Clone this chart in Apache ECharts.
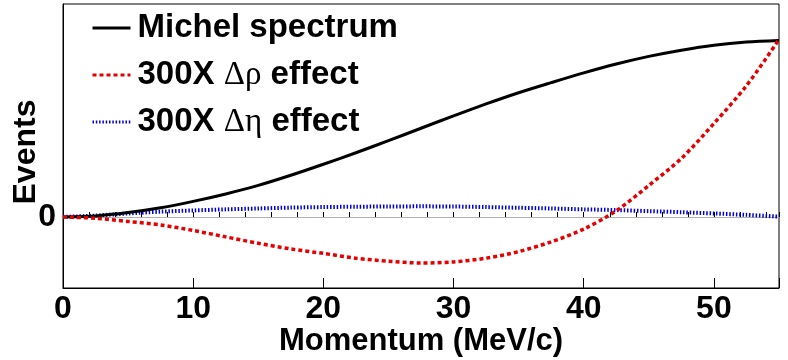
<!DOCTYPE html>
<html>
<head>
<meta charset="utf-8">
<script src="https://cdn.jsdelivr.net/npm/echarts@6/dist/echarts.min.js"></script>
<style>html,body{margin:0;padding:0;background:#fff;}#c{width:788px;height:360px;}</style>
</head>
<body>
<div id="c"></div>
<script>
var momentum = [0, 2.5, 5, 7.5, 10, 12.5, 15, 17.5, 20, 22.5, 25, 27.5, 30, 32.5, 35, 37.5, 40, 42.5, 45, 47.5, 50, 52.5, 55];
var michel = [0, 0.006, 0.025, 0.052, 0.088, 0.13, 0.178, 0.235, 0.297, 0.362, 0.43, 0.50, 0.57, 0.637, 0.70, 0.757, 0.812, 0.862, 0.905, 0.94, 0.968, 0.986, 0.995];
var deltaRho = [0, -0.007, -0.025, -0.045, -0.076, -0.112, -0.148, -0.18, -0.205, -0.232, -0.249, -0.259, -0.253, -0.232, -0.195, -0.14, -0.068, 0.035, 0.178, 0.33, 0.527, 0.74, 1.0];
var deltaEta = [0, 0.008, 0.02, 0.03, 0.037, 0.043, 0.048, 0.053, 0.056, 0.058, 0.059, 0.06, 0.059, 0.056, 0.052, 0.048, 0.043, 0.039, 0.033, 0.027, 0.02, 0.012, 0.002];
var seriesNames = ['Michel spectrum', '300X \u0394\u03c1 effect', '300X \u0394\u03b7 effect'];
var xTitle = 'Momentum (MeV/c)';
var yTitle = 'Events';

function pairs(ys) { return momentum.map(function (x, i) { return [x, ys[i]]; }); }

var FONT = 'Liberation Sans';
var chart = echarts.init(document.getElementById('c'), null, {renderer: 'canvas'});
chart.setOption({
  animation: false,
  backgroundColor: '#fff',
  grid: {left: 63, right: 9, top: 4, bottom: 72, outerBoundsMode: 'none', containLabel: false,
    show: true, borderColor: '#000', borderWidth: 1, backgroundColor: 'transparent'},
  legend: {
    orient: 'vertical', left: 86, top: 5,
    itemWidth: 38, itemHeight: 14, itemGap: 11,
    data: seriesNames,
    itemStyle: {opacity: 0},
    lineStyle: {width: 3},
    formatter: function (n) { return n.replace(/(\u0394.)/, '{g|$1}'); },
    textStyle: {
      fontFamily: FONT, fontWeight: 'bold', fontSize: 33, color: '#000', lineHeight: 36, padding: [0, 0, 0, 2],
      rich: {g: {fontFamily: 'Liberation Serif', fontWeight: 'normal', fontSize: 33, color: '#000', lineHeight: 36}}
    }
  },
  xAxis: [{
    type: 'value', min: 0, max: 55, interval: 10, position: 'bottom',
    name: xTitle, nameLocation: 'middle', nameGap: 38, nameMoveOverlap: false,
    nameTextStyle: {fontFamily: FONT, fontWeight: 'bold', fontSize: 31, color: '#000'},
    axisLine: {show: true, onZero: false, lineStyle: {color: '#000', width: 1}},
    axisTick: {show: true, inside: true, length: 10, lineStyle: {color: '#000', width: 1}},
    axisLabel: {show: true, margin: 5, fontFamily: FONT, fontWeight: 'bold', fontSize: 32, color: '#000',
      formatter: function (v) { return v % 10 === 0 ? String(v) : ''; }},
    splitLine: {show: false}
  }, {
    type: 'value', min: 0, max: 55, interval: 2, position: 'bottom',
    axisLine: {show: false},
    axisTick: {show: true, inside: true, length: 5, lineStyle: {color: '#000', width: 1}},
    axisLabel: {show: false},
    splitLine: {show: false}
  }],
  yAxis: {
    type: 'value', min: -0.4, max: 1.2, interval: 0.4,
    name: yTitle, nameLocation: 'middle', nameGap: 21, nameRotate: 90, nameMoveOverlap: false,
    nameTextStyle: {fontFamily: FONT, fontWeight: 'bold', fontSize: 32, color: '#000', padding: [0, 0, 0, -12]},
    axisLine: {show: true, onZero: false, lineStyle: {color: '#000', width: 1}},
    axisTick: {show: false},
    axisLabel: {show: true, margin: 7, fontFamily: FONT, fontWeight: 'bold', fontSize: 32, color: '#000',
      formatter: function (v) { return Math.abs(v) < 1e-9 ? '0' : ''; }},
    splitLine: {show: false}
  },
  series: [{
    name: seriesNames[0], type: 'line', data: pairs(michel), smooth: 0.3, symbol: 'none', z: 3,
    lineStyle: {color: '#000', width: 3, type: 'solid'}, itemStyle: {color: '#000'},
    markLine: {silent: true, symbol: 'none', label: {show: false}, z: 1,
      lineStyle: {color: '#b0b0b0', width: 1, type: 'solid'}, data: [{yAxis: 0}]}
  }, {
    name: seriesNames[1], type: 'line', data: pairs(deltaRho), smooth: 0.3, symbol: 'none', z: 4,
    lineStyle: {color: '#e60000', width: 3.5, type: [4, 3]}, itemStyle: {color: '#e60000'}
  }, {
    name: seriesNames[2], type: 'line', data: pairs(deltaEta), smooth: 0.3, symbol: 'none', z: 2,
    lineStyle: {color: '#0000d8', width: 4, type: [1.5, 1.8], cap: 'butt'}, itemStyle: {color: '#0000d8'}
  }]
});
</script>
</body>
</html>
